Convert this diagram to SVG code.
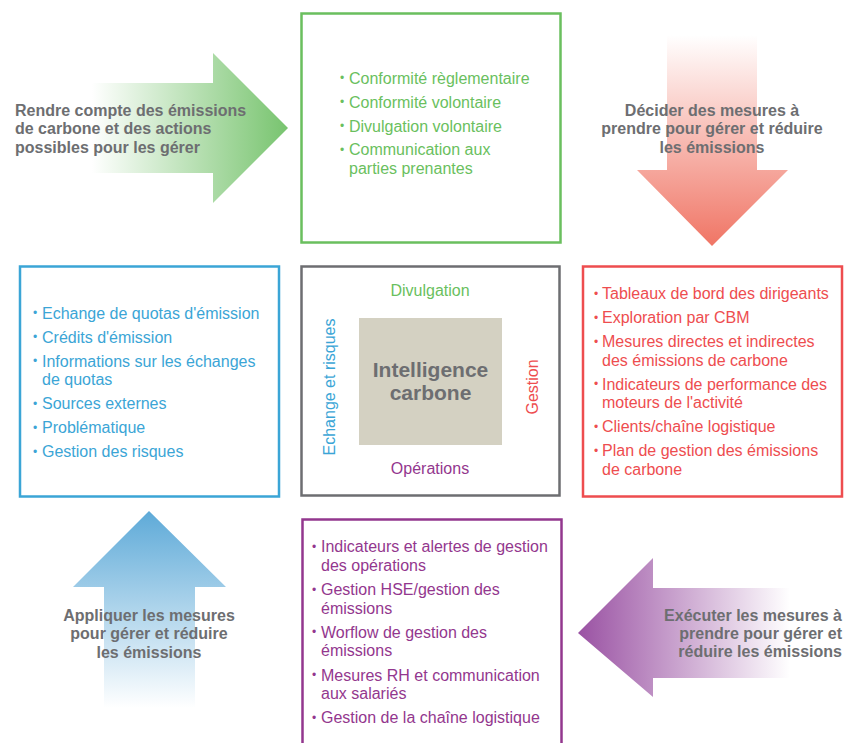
<svg xmlns="http://www.w3.org/2000/svg" width="846" height="743" viewBox="0 0 846 743">
  <style>
    text { font-family: "Liberation Sans", Arial, sans-serif; font-size: 16px; }
    text.dot { font-size: 12px; }
    .lbl { font-weight: bold; fill: #6d6e71; }
    .box { fill: #ffffff; stroke-width: 2.5; }
    .g { fill: #6abf5e; }
    .b { fill: #3ba5d6; }
    .r { fill: #ee4d4f; }
    .p { fill: #93378e; }
  </style>
  <defs>
    <linearGradient id="gradGreen" gradientUnits="userSpaceOnUse" x1="65" y1="0" x2="288" y2="0">
      <stop offset="0" stop-color="#ffffff"/>
      <stop offset="0.12" stop-color="#ffffff"/>
      <stop offset="1" stop-color="#78c46f"/>
    </linearGradient>
    <linearGradient id="gradRed" gradientUnits="userSpaceOnUse" x1="0" y1="35" x2="0" y2="246">
      <stop offset="0" stop-color="#ffffff"/>
      <stop offset="1" stop-color="#f07565"/>
    </linearGradient>
    <linearGradient id="gradBlue" gradientUnits="userSpaceOnUse" x1="0" y1="511" x2="0" y2="708">
      <stop offset="0" stop-color="#5eaad8"/>
      <stop offset="1" stop-color="#ffffff"/>
    </linearGradient>
    <linearGradient id="gradPurple" gradientUnits="userSpaceOnUse" x1="578" y1="0" x2="790" y2="0">
      <stop offset="0" stop-color="#9a52a3"/>
      <stop offset="1" stop-color="#ffffff"/>
    </linearGradient>
  </defs>

  <rect width="846" height="743" fill="#ffffff"/>

  <!-- cycle arrows between the boxes -->
  <g id="connectors">
    <g id="arrow-report">
      <polygon points="65,83 213,83 213,53 288,128 213,203 213,173 65,173" fill="url(#gradGreen)"/>
      <text class="lbl" x="15" y="115.5">Rendre compte des émissions</text>
      <text class="lbl" x="15" y="134">de carbone et des actions</text>
      <text class="lbl" x="15" y="152.5">possibles pour les gérer</text>
    </g>
    <g id="arrow-decide">
      <polygon points="667,35 757,35 757,170 788,170 712,246 637,170 667,170" fill="url(#gradRed)"/>
      <text class="lbl" x="712" y="115.5" text-anchor="middle">Décider des mesures à</text>
      <text class="lbl" x="712" y="134" text-anchor="middle">prendre pour gérer et réduire</text>
      <text class="lbl" x="712" y="152.5" text-anchor="middle">les émissions</text>
    </g>
    <g id="arrow-execute">
      <polygon points="578,633 653,558 653,588 800,588 800,678 653,678 653,697" fill="url(#gradPurple)"/>
      <text class="lbl" x="842" y="620.5" text-anchor="end">Exécuter les mesures à</text>
      <text class="lbl" x="842" y="638.5" text-anchor="end">prendre pour gérer et</text>
      <text class="lbl" x="842" y="656.5" text-anchor="end">réduire les émissions</text>
    </g>
    <g id="arrow-apply">
      <polygon points="149,511 226,587 195,587 195,708 104,708 104,587 73,587" fill="url(#gradBlue)"/>
      <text class="lbl" x="149" y="620.5" text-anchor="middle">Appliquer les mesures</text>
      <text class="lbl" x="149" y="639" text-anchor="middle">pour gérer et réduire</text>
      <text class="lbl" x="149" y="657.5" text-anchor="middle">les émissions</text>
    </g>
  </g>

  <!-- top: disclosure -->
  <g id="node-divulgation">
    <rect class="box" x="301.5" y="13.5" width="259" height="229" stroke="#6abf5e"/>
    <g class="g">
      <text class="dot" x="340" y="82">•</text><text x="349" y="83.5">Conformité règlementaire</text>
      <text class="dot" x="340" y="106">•</text><text x="349" y="107.5">Conformité volontaire</text>
      <text class="dot" x="340" y="130">•</text><text x="349" y="131.5">Divulgation volontaire</text>
      <text class="dot" x="340" y="153.5">•</text><text x="349" y="155">Communication aux</text>
      <text x="349" y="173.5">parties prenantes</text>
    </g>
  </g>

  <!-- left: trading and risks -->
  <g id="node-echange">
    <rect class="box" x="20" y="266.5" width="259" height="230" stroke="#3ba5d6"/>
    <g class="b">
      <text class="dot" x="33" y="317">•</text><text x="42" y="318.5">Echange de quotas d'émission</text>
      <text class="dot" x="33" y="341">•</text><text x="42" y="342.5">Crédits d'émission</text>
      <text class="dot" x="33" y="365">•</text><text x="42" y="366.5">Informations sur les échanges</text>
      <text x="42" y="385">de quotas</text>
      <text class="dot" x="33" y="407.5">•</text><text x="42" y="409">Sources externes</text>
      <text class="dot" x="33" y="431.5">•</text><text x="42" y="433">Problématique</text>
      <text class="dot" x="33" y="455.5">•</text><text x="42" y="457">Gestion des risques</text>
    </g>
  </g>

  <!-- centre: carbon intelligence -->
  <g id="node-intelligence">
    <rect class="box" x="301.5" y="266.5" width="258" height="229" stroke="#6d6e71"/>
    <rect x="359" y="318" width="143" height="127" fill="#d4d1c2"/>
    <text class="lbl" x="430.5" y="377" text-anchor="middle" style="font-size:21px">Intelligence</text>
    <text class="lbl" x="430.5" y="400" text-anchor="middle" style="font-size:21px">carbone</text>
    <text class="g" x="430" y="295.5" text-anchor="middle">Divulgation</text>
    <text class="p" x="430" y="474" text-anchor="middle">Opérations</text>
    <text class="r" transform="translate(538,387) rotate(-90)" text-anchor="middle">Gestion</text>
    <text class="b" transform="translate(334.5,387) rotate(-90)" text-anchor="middle">Echange et risques</text>
  </g>

  <!-- right: management -->
  <g id="node-gestion">
    <rect class="box" x="583" y="266.5" width="259" height="230" stroke="#ee4d4f"/>
    <g class="r">
      <text class="dot" x="594" y="297.5">•</text><text x="602" y="299">Tableaux de bord des dirigeants</text>
      <text class="dot" x="594" y="321.5">•</text><text x="602" y="323">Exploration par CBM</text>
      <text class="dot" x="594" y="345.5">•</text><text x="602" y="347">Mesures directes et indirectes</text>
      <text x="602" y="365.5">des émissions de carbone</text>
      <text class="dot" x="594" y="388">•</text><text x="602" y="389.5">Indicateurs de performance des</text>
      <text x="602" y="408">moteurs de l'activité</text>
      <text class="dot" x="594" y="430.5">•</text><text x="602" y="432">Clients/chaîne logistique</text>
      <text class="dot" x="594" y="454.5">•</text><text x="602" y="456">Plan de gestion des émissions</text>
      <text x="602" y="474.5">de carbone</text>
    </g>
  </g>

  <!-- bottom: operations -->
  <g id="node-operations">
    <rect class="box" x="302.5" y="519.5" width="259" height="240" stroke="#93378e"/>
    <g class="p">
      <text class="dot" x="312" y="550.5">•</text><text x="321" y="552">Indicateurs et alertes de gestion</text>
      <text x="321" y="570.5">des opérations</text>
      <text class="dot" x="312" y="593.5">•</text><text x="321" y="595">Gestion HSE/gestion des</text>
      <text x="321" y="613.5">émissions</text>
      <text class="dot" x="312" y="636">•</text><text x="321" y="637.5">Worflow de gestion des</text>
      <text x="321" y="656">émissions</text>
      <text class="dot" x="312" y="679">•</text><text x="321" y="680.5">Mesures RH et communication</text>
      <text x="321" y="699">aux salariés</text>
      <text class="dot" x="312" y="721.5">•</text><text x="321" y="723">Gestion de la chaîne logistique</text>
    </g>
  </g>
</svg>
